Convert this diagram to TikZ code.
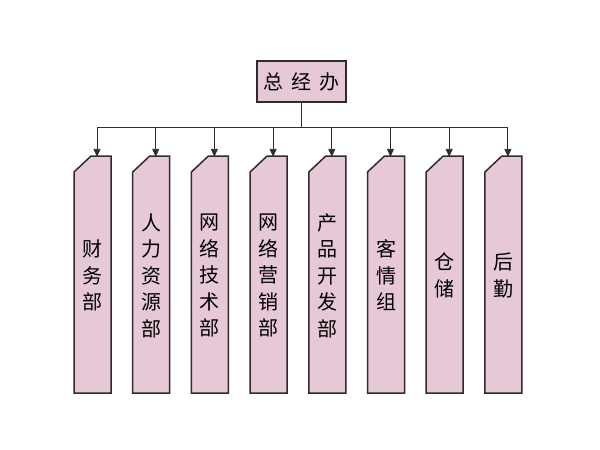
\documentclass[tikz,border=0pt]{standalone}
\usepackage{fontspec}
\newfontfamily\cjk{Noto Sans CJK SC}
\usetikzlibrary{arrows.meta}
\definecolor{boxpink}{RGB}{230,200,214}
\definecolor{edgegray}{RGB}{45,45,45}
\tikzset{
  topbox/.style={draw=edgegray, fill=boxpink, line width=1.5pt, minimum width=89pt, minimum height=41pt, inner sep=0pt, font=\cjk\fontsize{20}{24}\selectfont},
  colshape/.style={draw=edgegray, fill=boxpink, line width=1.5pt, line join=miter},
  coltext/.style={minimum width=37pt, minimum height=237pt, inner sep=0pt, align=center, font=\cjk\fontsize{20}{26.5}\selectfont},
  conn/.style={draw=edgegray, line width=0.9pt},
  arr/.style={conn, -{Triangle[length=8pt,width=7pt]}}
}
\begin{document}
\begin{tikzpicture}[x=1pt,y=-1pt]
\useasboundingbox (0,0) rectangle (600,450);
\fill[white] (0,0) rectangle (600,450);
\node[topbox] (top) at (301.5,81.5) {总\hspace{8pt}经\hspace{8pt}办};
\foreach \i/\t in {1/{财\\务\\部},2/{人\\力\\资\\源\\部},3/{网\\络\\技\\术\\部},4/{网\\络\\营\\销\\部},5/{产\\品\\开\\发\\部},6/{客\\情\\组},7/{仓\\储},8/{后\\勤}}{
  \pgfmathsetmacro\x{74+(\i-1)*58.7}
  \path[colshape] (\x,393) -- (\x,172) -- (\x+17,156) -- (\x+37,156) -- (\x+37,393) -- cycle;
  \node[coltext] (c\i) at (\x+18.5,275.5) {\t};
  \coordinate (a\i) at (\x+23,127);
  \draw[arr] (a\i) -- (a\i |- c\i.north);
}
\draw[conn] (a1) -- (a8);
\draw[conn] (top.south) -- (top.south |- a1);
\end{tikzpicture}
\end{document}
